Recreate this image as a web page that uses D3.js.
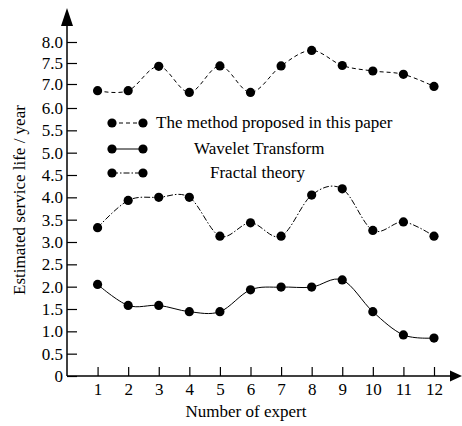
<!DOCTYPE html>
<html>
<head>
<meta charset="utf-8">
<script src="https://cdn.jsdelivr.net/npm/d3@7"></script>
<style>
  body { margin: 0; background: #fff; }
  text { font-family: "Liberation Serif", "Times New Roman", serif; fill: #000; }
</style>
</head>
<body>
<div id="chart"></div>
<script>
// data
const experts = [1, 2, 3, 4, 5, 6, 7, 8, 9, 10, 11, 12];
const proposed = [6.72, 6.72, 7.42, 6.65, 7.43, 6.65, 7.43, 7.80, 7.44, 7.31, 7.23, 6.90];
const wavelet = [2.05, 1.58, 1.58, 1.44, 1.44, 1.93, 1.99, 1.99, 2.15, 1.44, 0.92, 0.85];
const fractal = [3.32, 3.93, 4.0, 4.0, 3.13, 3.43, 3.13, 4.05, 4.19, 3.26, 3.45, 3.13];
const seriesNames = ["The method proposed in this paper", "Wavelet Transform", "Fractal theory"];
const yTicks = [0, 0.5, 1.0, 1.5, 2.0, 2.5, 3.0, 3.5, 4.0, 4.5, 5.0, 5.5, 6.0, 7.0, 7.5, 8.0];

const W = 462, H = 426;
const margin = {left: 67, top: 42};
const width = 367, height = 334;
const fontSize = "17px";

let svg = d3.select("#chart")
            .append("svg")
            .attr("width", W)
            .attr("height", H);

let g = svg.append("g")
           .attr("transform", "translate(" + margin.left + "," + margin.top + ")");

// scales - y axis is broken between 6 and 7
let xScale = d3.scaleLinear().domain([0, 12]).range([0, width]);
let yScale = d3.scaleLinear().domain([0, 6, 7, 8]).range([height, 66, 42, 0]);

// axes
let xAxis = d3.axisBottom(xScale)
              .tickValues(experts)
              .tickFormat(d3.format("d"))
              .tickSizeInner(-9)
              .tickSizeOuter(0)
              .tickPadding(7);
let yAxis = d3.axisLeft(yScale)
              .tickValues(yTicks)
              .tickFormat(d => d === 0 ? "0" : d3.format(".1f")(d))
              .tickSizeInner(-10)
              .tickSizeOuter(0)
              .tickPadding(4);

let gx = g.append("g")
          .attr("transform", "translate(0," + height + ")")
          .call(xAxis);
let gy = g.append("g").call(yAxis);

[gx, gy].forEach(a => {
    a.select(".domain").remove();
    a.selectAll("line").attr("stroke", "#000").attr("stroke-width", 1.2);
    a.selectAll("text").style("font-size", fontSize).attr("fill", "#000");
});

// axis lines with arrows
g.append("line")
 .attr("x1", 0).attr("y1", height)
 .attr("x2", 385).attr("y2", height)
 .attr("stroke", "#000").attr("stroke-width", 1.5);
g.append("path")
 .attr("d", "M383," + (height - 5.5) + "L395," + height + "L383," + (height + 5.5) + "Z")
 .attr("fill", "#000");
g.append("line")
 .attr("x1", 0).attr("y1", height)
 .attr("x2", 0).attr("y2", -17)
 .attr("stroke", "#000").attr("stroke-width", 1.5);
g.append("path")
 .attr("d", "M-6,-16L0,-34L6,-16Z")
 .attr("fill", "#000");

// axis titles
svg.append("text")
   .attr("x", 246).attr("y", 417)
   .attr("text-anchor", "middle")
   .style("font-size", fontSize)
   .text("Number of expert");
svg.append("text")
   .attr("transform", "translate(25,200) rotate(-90)")
   .attr("text-anchor", "middle")
   .style("font-size", fontSize)
   .text("Estimated service life / year");

// series
let series = [
    {name: seriesNames[0], values: proposed, dash: "4,3"},
    {name: seriesNames[1], values: wavelet, dash: null},
    {name: seriesNames[2], values: fractal, dash: "6,2,1.5,2"}
];

let line = d3.line()
             .x(d => xScale(d.x))
             .y(d => yScale(d.y))
             .curve(d3.curveCardinal);

series.forEach(s => {
    let pts = experts.map((x, i) => ({x: x, y: s.values[i]}));
    g.append("path")
     .datum(pts)
     .attr("d", line)
     .attr("fill", "none")
     .attr("stroke", "#000")
     .attr("stroke-width", 1)
     .attr("stroke-dasharray", s.dash);
    g.selectAll(null)
     .data(pts)
     .enter()
     .append("circle")
     .attr("cx", d => xScale(d.x))
     .attr("cy", d => yScale(d.y))
     .attr("r", 4.6)
     .attr("fill", "#000");
});

// legend
let legendY = [123, 149, 173];
let legendTextX = [156, 194, 210];
series.forEach((s, i) => {
    let lg = svg.append("g").attr("transform", "translate(0," + legendY[i] + ")");
    lg.append("line")
      .attr("x1", 112).attr("x2", 143)
      .attr("stroke", "#000").attr("stroke-width", 1)
      .attr("stroke-dasharray", s.dash);
    lg.selectAll("circle")
      .data([112, 143])
      .enter()
      .append("circle")
      .attr("cx", d => d).attr("cy", 0)
      .attr("r", 4.6).attr("fill", "#000");
    lg.append("text")
      .attr("x", legendTextX[i]).attr("y", 5)
      .style("font-size", fontSize)
      .text(s.name);
});
</script>
</body>
</html>
